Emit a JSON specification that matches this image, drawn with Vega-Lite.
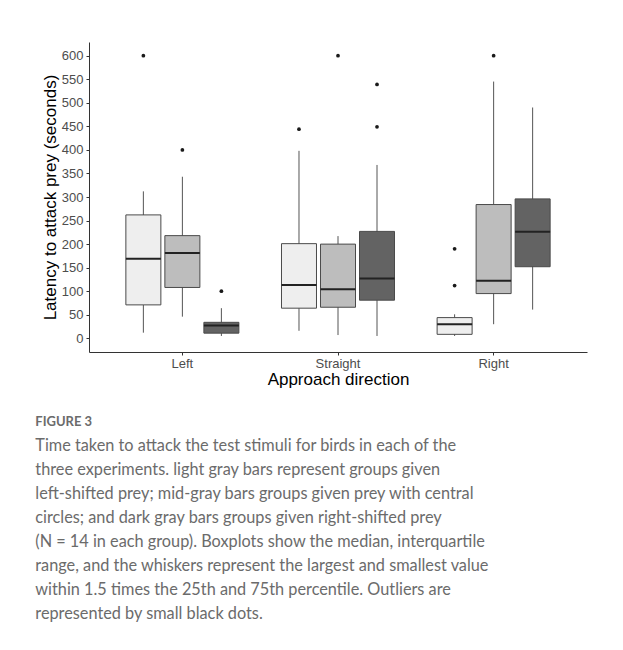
{
  "$schema": "https://vega.github.io/schema/vega-lite/v6.json",
  "autosize": "none",
  "width": 498,
  "height": 310,
  "padding": {"left": 89, "top": 42, "right": 36, "bottom": 298},
  "background": "white",
  "config": {
    "view": {"stroke": null},
    "font": "Liberation Sans",
    "axisY": {
      "labelOverlap": false,
      "labelFont": "Liberation Sans",
      "labelFontSize": 13,
      "labelColor": "#4d4d4d",
      "labelPadding": 3,
      "titleFont": "Liberation Sans",
      "titleFontSize": 17,
      "titleFontWeight": "normal",
      "titleColor": "#000000",
      "titlePadding": 2,
      "domainColor": "#333333",
      "tickColor": "#333333",
      "tickSize": 3,
      "grid": false
    }
  },
  "title": {
    "text": "FIGURE 3",
    "subtitle": [
      "Time taken to attack the test stimuli for birds in each of the",
      "three experiments. light gray bars represent groups given",
      "left-shifted prey; mid-gray bars groups given prey with central",
      "circles; and dark gray bars groups given right-shifted prey",
      "(N = 14 in each group). Boxplots show the median, interquartile",
      "range, and the whiskers represent the largest and smallest value",
      "within 1.5 times the 25th and 75th percentile. Outliers are",
      "represented by small black dots."
    ],
    "orient": "bottom",
    "anchor": "start",
    "frame": "bounds",
    "dx": -6,
    "offset": 29,
    "font": "Lato",
    "fontSize": 13,
    "fontWeight": "bold",
    "color": "#6b6b6b",
    "subtitleFont": "Lato",
    "subtitleFontSize": 16.3,
    "subtitleColor": "#6b6b6b",
    "subtitleLineHeight": 24,
    "subtitlePadding": 9
  },
  "datasets": {
    "boxes": [
      {"dir": "Left", "grp": "Left-shifted", "lo": 12, "q1": 71, "med": 169, "q3": 262, "hi": 312},
      {"dir": "Left", "grp": "Central", "lo": 46, "q1": 108, "med": 181, "q3": 218, "hi": 343},
      {"dir": "Left", "grp": "Right-shifted", "lo": 5, "q1": 11, "med": 27, "q3": 34, "hi": 64},
      {"dir": "Straight", "grp": "Left-shifted", "lo": 16, "q1": 64, "med": 113, "q3": 201, "hi": 398},
      {"dir": "Straight", "grp": "Central", "lo": 7, "q1": 66, "med": 104, "q3": 200, "hi": 217},
      {"dir": "Straight", "grp": "Right-shifted", "lo": 5, "q1": 81, "med": 127, "q3": 227, "hi": 368},
      {"dir": "Right", "grp": "Left-shifted", "lo": 5, "q1": 8.5, "med": 30, "q3": 44, "hi": 51},
      {"dir": "Right", "grp": "Central", "lo": 30, "q1": 95, "med": 122, "q3": 284, "hi": 545},
      {"dir": "Right", "grp": "Right-shifted", "lo": 61, "q1": 152, "med": 226, "q3": 296, "hi": 490}
    ],
    "outliers": [
      {"dir": "Left", "grp": "Left-shifted", "v": 600},
      {"dir": "Left", "grp": "Central", "v": 400},
      {"dir": "Left", "grp": "Right-shifted", "v": 100},
      {"dir": "Straight", "grp": "Left-shifted", "v": 444},
      {"dir": "Straight", "grp": "Central", "v": 600},
      {"dir": "Straight", "grp": "Right-shifted", "v": 539},
      {"dir": "Straight", "grp": "Right-shifted", "v": 449},
      {"dir": "Right", "grp": "Left-shifted", "v": 190},
      {"dir": "Right", "grp": "Left-shifted", "v": 112},
      {"dir": "Right", "grp": "Central", "v": 600}
    ]
  },
  "encoding": {
    "x": {
      "field": "dir",
      "type": "nominal",
      "sort": ["Left", "Straight", "Right"],
      "scale": {"type": "band", "paddingInner": 0, "paddingOuter": 0.1},
      "axis": {
        "title": "Approach direction",
        "labelAngle": 0,
        "labelFont": "Liberation Sans",
        "labelFontSize": 13,
        "labelColor": "#4d4d4d",
        "labelPadding": 2,
        "titleFont": "Liberation Sans",
        "titleFontSize": 17,
        "titleFontWeight": "normal",
        "titleColor": "#000000",
        "titlePadding": 1,
        "domainColor": "#333333",
        "domainWidth": 1,
        "tickColor": "#333333",
        "tickSize": 3,
        "grid": false
      }
    },
    "xOffset": {
      "field": "grp",
      "type": "nominal",
      "sort": ["Left-shifted", "Central", "Right-shifted"],
      "scale": {"paddingInner": 0.1026, "paddingOuter": 0.546}
    }
  },
  "layer": [
    {
      "data": {"name": "boxes"},
      "mark": {"type": "rule", "color": "#555555", "strokeWidth": 1},
      "encoding": {
        "y": {
          "field": "lo",
          "type": "quantitative",
          "scale": {"domain": [-29, 629], "nice": false, "zero": false},
          "axis": {"title": "Latency to attack prey (seconds)", "values": [0, 50, 100, 150, 200, 250, 300, 350, 400, 450, 500, 550, 600]}
        },
        "y2": {"field": "hi"}
      }
    },
    {
      "data": {"name": "boxes"},
      "mark": {"type": "bar", "stroke": "#4a4a4a", "strokeWidth": 1},
      "encoding": {
        "y": {"field": "q1", "type": "quantitative", "axis": {"title": "Latency to attack prey (seconds)", "values": [0, 50, 100, 150, 200, 250, 300, 350, 400, 450, 500, 550, 600]}},
        "y2": {"field": "q3"},
        "fill": {
          "field": "grp",
          "type": "nominal",
          "scale": {"domain": ["Left-shifted", "Central", "Right-shifted"], "range": ["#eeeeee", "#bdbdbd", "#636363"]},
          "legend": null
        }
      }
    },
    {
      "data": {"name": "boxes"},
      "mark": {"type": "tick", "color": "#222222", "thickness": 2, "size": 35, "opacity": 1},
      "encoding": {
        "y": {"field": "med", "type": "quantitative", "axis": {"title": "Latency to attack prey (seconds)", "values": [0, 50, 100, 150, 200, 250, 300, 350, 400, 450, 500, 550, 600]}}
      }
    },
    {
      "data": {"name": "outliers"},
      "mark": {"type": "point", "filled": true, "color": "#1a1a1a", "size": 14, "opacity": 1},
      "encoding": {
        "y": {"field": "v", "type": "quantitative", "axis": {"title": "Latency to attack prey (seconds)", "values": [0, 50, 100, 150, 200, 250, 300, 350, 400, 450, 500, 550, 600]}}
      }
    }
  ]
}
